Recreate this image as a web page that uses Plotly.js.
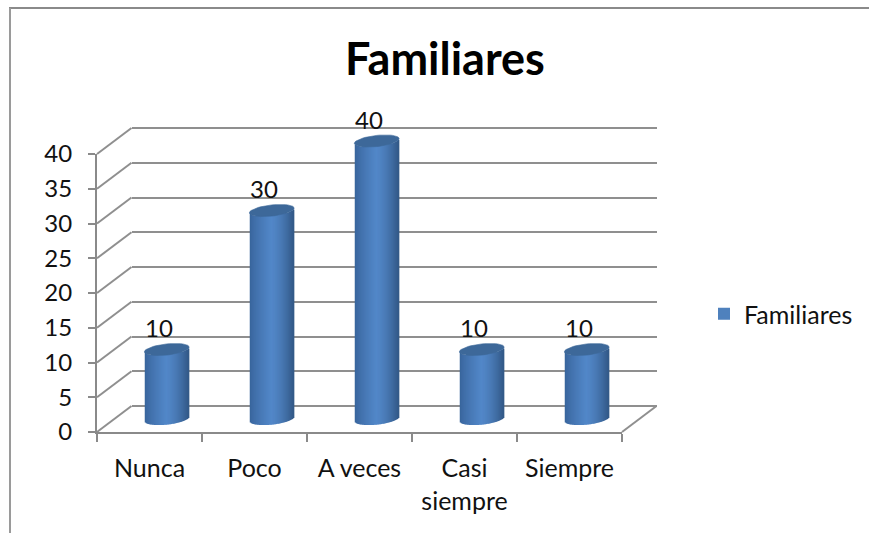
<!DOCTYPE html>
<html>
<head>
<meta charset="utf-8">
<script src="https://cdn.plot.ly/plotly-3.0.1.min.js"></script>
<style>html,body{margin:0;padding:0;background:#fff}#c{width:869px;height:533px}</style>
</head>
<body>
<div id="c"></div>
<script>
const categories = ["Nunca", "Poco", "A veces", "Casi<br>siempre", "Siempre"];
const values = [10, 30, 40, 10, 10];
const yTicks = [0, 5, 10, 15, 20, 25, 30, 35, 40];
const seriesName = "Familiares";

const W = 869, H = 533;
const fx = v => v / W, fy = v => 1 - v / H;
const front = {l: 97, r: 622, y0: 432, y40: 154};
const depth = {dx: 34.5, dy: -26};
const pxPerCat = (front.r - front.l) / 5;
const pxPerVal = (front.y0 - front.y40) / 40;
const gridColor = "#8f8f8f", axisColor = "#8a8a8a", textColor = "#111111";
const font = "Lato, Carlito, sans-serif";
const idx = categories.map((_, i) => i);

/* cylinder geometry in pixels, converted to data units */
const halfW = 22, capB = 5.6, tilt = 0.105, stripPx = 1;
const lowerEdge = dx => (-capB * Math.sqrt(Math.max(0, 1 - (dx / halfW) ** 2)) + tilt * dx) / pxPerVal;
function lerp(a, b, t) { return a.map((v, i) => Math.round(v + (b[i] - v) * t)); }
function shade(t) {
  const L = [56, 100, 155], M = [82, 135, 200], R = [50, 88, 134];
  const p = 0.48;
  const c = t < p ? lerp(L, M, Math.pow(t / p, 0.8)) : lerp(M, R, Math.pow((t - p) / (1 - p), 1.5));
  return `rgb(${c[0]},${c[1]},${c[2]})`;
}

const traces = [];
/* invisible traces that bring the front axes and the back wall subplot into being */
traces.push({type: "scatter", mode: "none", x: categories, y: values, xaxis: "x", yaxis: "y", showlegend: false, hoverinfo: "skip"});
traces.push({type: "scatter", mode: "none", x: idx, y: values, xaxis: "x2", yaxis: "y2", showlegend: false, hoverinfo: "skip"});
/* the series itself */
traces.push({type: "bar", name: seriesName, x: idx, y: values, width: 30 / pxPerCat, xaxis: "x3", yaxis: "y3",
  marker: {color: "#4f81bd", line: {width: 0}}, showlegend: true, hoverinfo: "skip"});
/* rounded shading strips */
for (let p = -halfW; p < halfW; p += stripPx) {
  const mid = p + stripPx / 2;
  traces.push({type: "bar", x: idx, y: values,
    base: values.map(() => lowerEdge(mid)),
    width: (stripPx + 0.6) / pxPerCat, offset: (p) / pxPerCat,
    xaxis: "x3", yaxis: "y3", showlegend: false, hoverinfo: "skip",
    marker: {color: shade((mid + halfW) / (2 * halfW)), line: {width: 0}}});
}
/* top caps */
const capX = [], capY = [];
values.forEach((v, i) => {
  for (let a = 0; a <= 48; a++) {
    const t = a / 48 * 2 * Math.PI, dx = (halfW + 0.4) * Math.cos(t);
    capX.push(i + dx / pxPerCat);
    capY.push(v + (capB * Math.sin(t) + tilt * dx) / pxPerVal);
  }
  capX.push(null); capY.push(null);
});
traces.push({type: "scatter", mode: "lines", x: capX, y: capY, fill: "toself", fillcolor: "#3d6899",
  line: {width: 0.6, color: "#3d6899"}, xaxis: "x3", yaxis: "y3", showlegend: false, hoverinfo: "skip"});

/* oblique lines joining the front axis to the back wall */
const shapes = [];
const ln = (x0, y0, x1, y1, c, w) => shapes.push({type: "line", xref: "paper", yref: "paper", layer: "below",
  x0: fx(x0), y0: fy(y0), x1: fx(x1), y1: fy(y1), line: {color: c, width: w}});
yTicks.forEach(v => {
  const y = front.y0 - v * pxPerVal;
  ln(front.l, y, front.l + depth.dx, y + depth.dy, gridColor, 2);
});
ln(front.r, front.y0, front.r + depth.dx, front.y0 + depth.dy, gridColor, 2);
/* chart frame */
ln(9, 8, W, 8, "#8a8a8a", 2);
ln(10, 8, 10, H, "#9a9a9a", 2);

const annotations = values.map((v, i) => ({
  xref: "x3", yref: "y3", x: i, y: v, text: String(v), showarrow: false,
  xshift: -8, yshift: 22, xanchor: "center", yanchor: "middle",
  font: {family: font, size: 24, color: textColor}
}));

const backY0 = front.y0 + depth.dy;
const layout = {
  width: W, height: H, margin: {l: 0, r: 0, t: 0, b: 0, pad: 0},
  paper_bgcolor: "#fff", plot_bgcolor: "rgba(0,0,0,0)", barmode: "overlay", hovermode: false,
  title: {text: seriesName, x: fx(445), xanchor: "center", y: fy(59), yanchor: "middle",
    font: {family: font, size: 45, weight: 700, color: "#000"}},
  xaxis: {domain: [fx(front.l), fx(front.r)], anchor: "y", type: "category", categoryorder: "array", categoryarray: categories,
    range: [-0.5, 4.5], tickson: "boundaries", ticks: "outside", ticklen: 8, tickwidth: 2, tickcolor: axisColor,
    showline: true, linecolor: axisColor, linewidth: 2, showgrid: false, zeroline: false, fixedrange: true,
    ticklabelstandoff: 13, tickfont: {family: font, size: 25, color: textColor}},
  yaxis: {domain: [fy(front.y0), fy(front.y40)], anchor: "x", range: [0, 40], tickmode: "array", tickvals: yTicks,
    ticks: "outside", ticklen: 7, tickwidth: 2, tickcolor: axisColor, showline: true, linecolor: axisColor, linewidth: 2,
    showgrid: false, zeroline: false, fixedrange: true, ticklabelstandoff: 11, tickfont: {family: font, size: 24, color: textColor}},
  xaxis2: {domain: [fx(front.l + depth.dx), fx(front.r + depth.dx)], anchor: "y2", range: [-0.5, 4.5],
    showgrid: false, zeroline: false, showline: false, ticks: "", showticklabels: false, fixedrange: true},
  yaxis2: {domain: [fy(backY0 + 5 * pxPerVal), fy(backY0 - 45 * pxPerVal)], anchor: "x2", range: [-5, 45], tickmode: "array", tickvals: yTicks,
    showgrid: true, gridcolor: gridColor, gridwidth: 2, zeroline: false, showline: false, ticks: "", showticklabels: false, fixedrange: true},
  xaxis3: {domain: [fx(front.l + depth.dx / 2), fx(front.r + depth.dx / 2)], anchor: "y3", range: [-0.5, 4.5],
    showgrid: false, zeroline: false, showline: false, ticks: "", showticklabels: false, fixedrange: true},
  yaxis3: {domain: [fy(419 + 5 * pxPerVal), fy(419 - 45 * pxPerVal)], anchor: "x3", range: [-5, 45],
    showgrid: false, zeroline: false, showline: false, ticks: "", showticklabels: false, fixedrange: true},
  legend: {x: fx(704), xanchor: "left", y: fy(314), yanchor: "middle", bgcolor: "rgba(0,0,0,0)", itemclick: false, itemdoubleclick: false,
    font: {family: font, size: 25, color: textColor}},
  showlegend: true, shapes, annotations
};
Plotly.newPlot("c", traces, layout, {displayModeBar: false, staticPlot: true});
</script>
</body>
</html>
